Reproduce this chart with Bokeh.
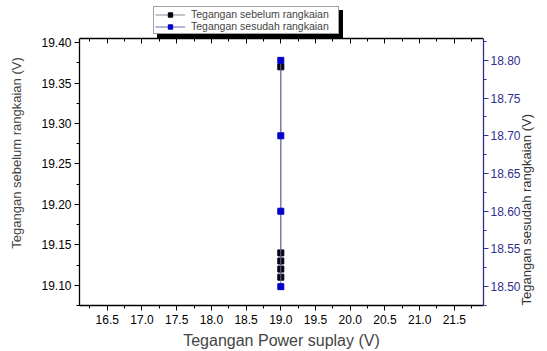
import math
from bokeh.plotting import figure
from bokeh.models import (Range1d, LinearAxis, SingleIntervalTicker, PrintfTickFormatter,
                          Legend, LegendItem)
from bokeh.embed import file_html
from bokeh.resources import INLINE

# data
x_power = [19.0, 19.0, 19.0, 19.0, 19.0]
v_sebelum = [19.37, 19.14, 19.13, 19.12, 19.11]
x_power2 = [19.0, 19.0, 19.0, 19.0]
v_sesudah = [18.80, 18.70, 18.60, 18.50]

FONT = "Liberation Sans"
NAVY = "#2f2f8f"

# visible data window; frame is extended upward to host the legend
L_LO, L_HI = 19.075, 19.405
R_LO, R_HI = 18.475, 18.829
EXT = 38.0 / 267.0  # extra headroom (fraction of data span) for the legend

p = figure(width=544, height=351, output_backend="svg", toolbar_location=None,
           x_range=Range1d(16.1, 21.92),
           y_range=Range1d(L_LO, L_HI + (L_HI - L_LO) * EXT),
           min_border_left=79, min_border_right=58, min_border_top=0, min_border_bottom=46)
p.extra_y_ranges = {"right": Range1d(R_LO, R_HI + (R_HI - R_LO) * EXT)}
p.xgrid.visible = False
p.ygrid.visible = False
p.outline_line_color = None
p.background_fill_color = "white"

def style(ax, color="black", out=True):
    ax.axis_line_color = color
    ax.axis_line_width = 1.3
    ax.major_tick_line_color = color
    ax.minor_tick_line_color = color
    if out:
        ax.major_tick_out = 5; ax.major_tick_in = 0
        ax.minor_tick_out = 3; ax.minor_tick_in = 0
    else:
        ax.major_tick_out = 0; ax.major_tick_in = 5
        ax.minor_tick_out = 0; ax.minor_tick_in = 3
    ax.major_label_text_font = FONT
    ax.major_label_text_font_size = "12px"
    ax.major_label_text_color = color
    ax.axis_label_text_font = FONT
    ax.axis_label_text_font_style = "normal"

xa = p.xaxis[0]
xa.ticker = SingleIntervalTicker(interval=0.5, num_minor_ticks=2)
xa.formatter = PrintfTickFormatter(format="%.1f")
style(xa)
xa.axis_label = "Tegangan Power suplay (V)"
xa.axis_label_text_font_size = "16px"
xa.axis_label_standoff = 5
xa.major_label_standoff = 4

ya = p.yaxis[0]
ya.ticker = SingleIntervalTicker(interval=0.05, num_minor_ticks=2)
ya.formatter = PrintfTickFormatter(format="%.2f")
ya.bounds = (L_LO, L_HI)
style(ya)
ya.axis_label = "Tegangan sebelum rangkaian (V)"
ya.axis_label_text_font_size = "13px"
ya.axis_label_standoff = 14
ya.major_label_standoff = 3

ra = LinearAxis(y_range_name="right",
                ticker=SingleIntervalTicker(interval=0.05, num_minor_ticks=2),
                formatter=PrintfTickFormatter(format="%.2f"), bounds=(R_LO, R_HI))
style(ra, NAVY)
ra.axis_label = "Tegangan sesudah rangkaian (V)"
ra.axis_label_text_font_size = "13px"
ra.axis_label_text_color = "#333333"
ra.axis_label_standoff = 3
ra.major_label_standoff = 2
ra.axis_label_orientation = math.pi / 2
ra.axis_label_align = "start"
p.add_layout(ra, "right")

ta = LinearAxis(ticker=SingleIntervalTicker(interval=0.5, num_minor_ticks=2),
                fixed_location=L_HI)
style(ta, out=False)
ta.major_label_text_font_size = "0px"
ta.major_label_text_color = None
ta.major_label_standoff = 0
p.add_layout(ta, "above")

l1 = p.line(x_power, v_sebelum, line_color="#8a8a9a", line_width=1)
s1 = p.scatter(x_power, v_sebelum, marker="square", size=6, fill_color="#000010", line_color="#000010")
l2 = p.line(x_power2, v_sesudah, y_range_name="right", line_color="#6a6ab0", line_width=1)
s2 = p.scatter(x_power2, v_sesudah, y_range_name="right", marker="square", size=6,
               fill_color="#0000c8", line_color="#0000c8")

def mk_legend(loc, shadow=False):
    lg = Legend(items=[LegendItem(label="Tegangan sebelum rangkaian", renderers=[l1, s1]),
                       LegendItem(label="Tegangan sesudah rangkaian", renderers=[l2, s2])],
                location=loc, orientation="vertical")
    lg.label_text_font = FONT
    lg.label_text_font_size = "10.5px"
    lg.label_height = 11
    lg.glyph_height = 11
    lg.glyph_width = 30
    lg.label_width = 146
    lg.label_standoff = 6
    lg.spacing = 0
    lg.padding = 1
    lg.margin = 0
    lg.border_line_width = 1
    lg.background_fill_alpha = 1
    if shadow:
        lg.background_fill_color = "black"
        lg.border_line_color = "black"
        lg.label_text_color = "black"
    else:
        lg.background_fill_color = "white"
        lg.border_line_color = "#444444"
    return lg

p.add_layout(mk_legend((78, 267), shadow=True), "center")
p.add_layout(mk_legend((74, 271)), "center")

open("out.html", "w").write(file_html(p, INLINE))
